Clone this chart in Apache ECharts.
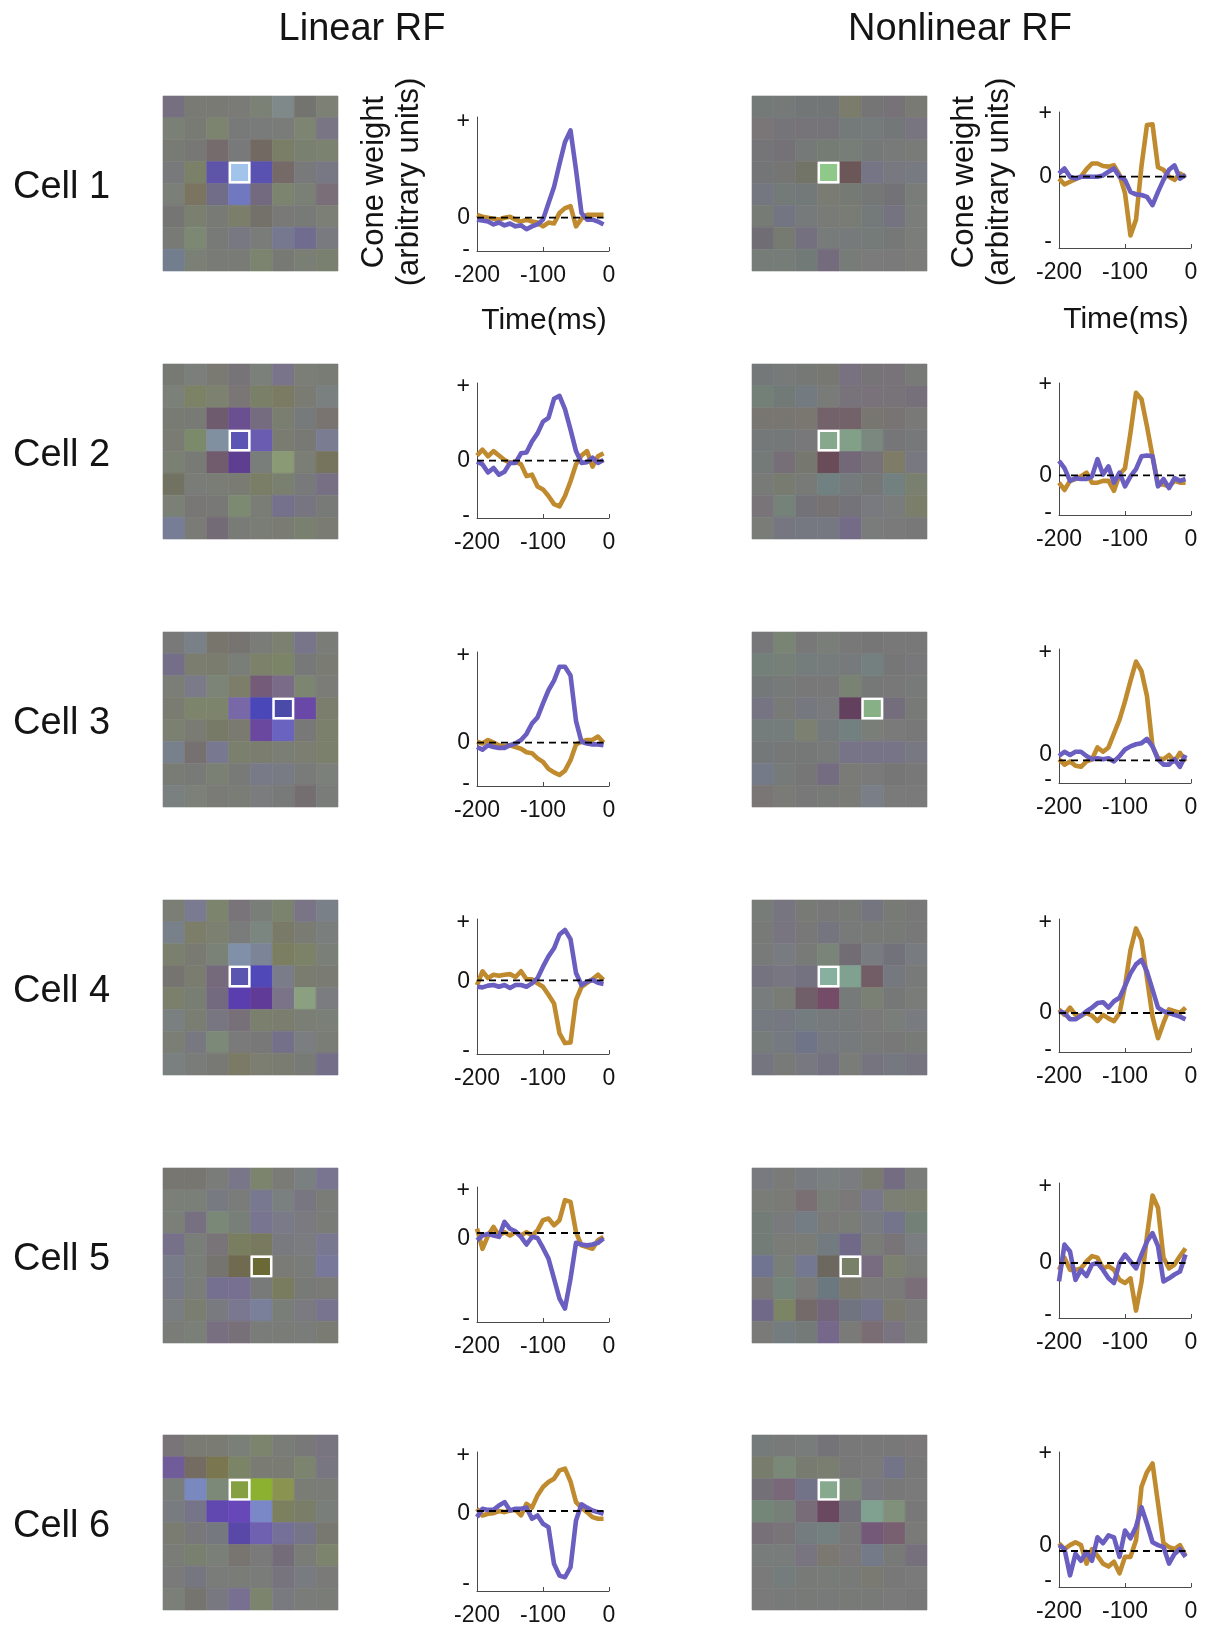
<!DOCTYPE html>
<html><head><meta charset="utf-8">
<script src="https://cdn.jsdelivr.net/npm/echarts@6/dist/echarts.min.js"></script>
<style>html,body{margin:0;padding:0;background:#fff}#c{width:1209px;height:1632px}</style>
</head><body><div id="c"></div>
<script>
// ---------- DATA ----------
const timeMs = [-200,-191.7,-183.3,-175,-166.7,-158.3,-150,-141.7,-133.3,-125,-116.7,-108.3,-100,-91.7,-83.3,-75,-66.7,-58.3,-50,-41.7,-33.3,-25,-16.7,-8.3];
const xTicks = [-200,-100,0];
const cellNames = ['Cell 1','Cell 2','Cell 3','Cell 4','Cell 5','Cell 6'];

// Linear RF time courses (purple = S-cone, orange = L-M)
const linPurple1 = [-0.2,-0.3,-0.4,-0.7,-0.5,-0.8,-0.6,-0.9,-0.8,-1.2,-0.9,-0.7,-0.2,1.5,3.2,5.6,7.9,9.1,5.0,0.5,-0.2,-0.2,-0.4,-0.7];
const linOrange1 = [0.3,0.1,0.0,-0.1,-0.2,0.0,0.1,-0.2,-0.4,-0.2,-0.4,-0.5,-0.9,-0.5,-0.6,0.5,1.0,1.2,-0.9,-0.1,0.3,0.3,0.3,0.3];
const linPurple2 = [-0.1,-0.5,-1.6,-1.0,-1.9,-1.5,-0.3,-0.3,1.0,1.1,2.6,3.7,5.3,5.8,8.4,8.8,7.0,4.2,1.3,-0.3,-0.2,0.4,-0.3,0.1];
const linOrange2 = [0.7,1.5,0.6,1.3,0.7,0.1,-0.3,-0.1,-0.5,-2.1,-1.9,-3.5,-3.9,-4.8,-5.9,-6.2,-4.8,-2.8,-0.5,0.7,1.3,-0.8,0.6,1.0];
const linPurple3 = [-0.5,-0.8,-0.3,-0.5,-0.6,-0.6,-0.3,-0.1,0.3,1.0,2.2,2.9,4.5,6.0,7.1,8.7,8.7,7.7,2.5,0.1,-0.1,-0.2,-0.2,-0.3];
const linOrange3 = [0.1,-0.1,0.3,0.0,-0.3,-0.4,-0.3,-0.5,-0.7,-1.1,-1.2,-1.8,-2.2,-3.0,-3.4,-3.7,-3.2,-2.0,-0.2,0.1,0.3,0.3,0.7,0.0];
const linPurple4 = [-1.1,-1.2,-0.9,-0.8,-1.1,-0.8,-1.3,-0.8,-0.8,-1.1,-0.5,0.4,2.4,4.2,5.6,8.0,8.8,7.2,1.3,-0.8,-0.2,0.1,-0.4,-0.6];
const linOrange4 = [-0.8,1.6,0.4,1.0,0.8,1.0,1.1,0.6,1.6,0.2,0.2,-0.5,-1.1,-2.5,-4.0,-9.2,-10.9,-10.8,-3.4,-1.1,-0.4,0.2,1.0,0.1];
const linPurple5 = [-1.7,-0.6,-0.2,-0.6,-0.9,2.6,1.0,0.4,-0.9,-2.7,-0.9,-1.2,-3.5,-6.0,-10.7,-15.4,-17.7,-10.7,-2.3,-2.7,-2.9,-2.7,-2.3,-1.3];
const linOrange5 = [1.0,-3.7,-0.6,1.4,-0.6,0.2,-0.6,0.2,-0.6,0.2,-0.6,0.6,3.0,3.4,1.8,3.0,7.7,7.3,0.2,-2.9,-3.3,-3.7,-1.7,-0.9];
const linPurple6 = [-1.1,0.4,0.2,0.2,1.0,1.6,0.1,0.4,0.4,0.6,-1.4,-0.8,-2.3,-2.9,-9.5,-11.6,-11.9,-10.1,-1.7,1.2,0.6,0.1,-0.2,-0.5];
const linOrange6 = [0.4,-0.8,-0.5,-0.4,0.0,-0.2,0.1,0.2,-0.8,1.3,0.6,2.8,4.3,5.2,5.8,7.3,7.6,5.3,1.6,0.6,-0.2,-1.1,-1.4,-1.4];

// Nonlinear RF time courses
const nlPurple1 = [0.5,1.3,0,-0.3,0,0,0,0,0.2,0.8,1.3,0,-0.5,-2.4,-2.8,-2.9,-3.2,-4.5,-2.4,-0.5,1.1,1.8,-0.3,0.3];
const nlOrange1 = [-0.3,-1.2,-0.8,-0.4,0,1.2,2.1,2.1,1.7,1.6,1.8,0.3,-2.6,-9.3,-6.8,1.7,8.2,8.3,1.5,1.1,0,-0.5,0.5,0];
const nlPurple2 = [1.6,0.8,-0.6,-0.3,-0.4,-0.4,-0.1,1.8,0.1,1.0,-0.8,0.3,-1.2,-0.1,0.7,2.1,2.2,2.1,-1.2,-0.4,-1.4,-0.3,-0.6,-0.4];
const nlOrange2 = [-0.8,-1.6,-0.6,-0.4,-0.1,0.3,-0.8,-0.8,-0.6,-0.6,-1.7,0.1,0.8,4.7,9.1,8.4,5.4,2.1,-1.0,-1.0,-1.2,-0.6,-0.8,-0.8];
const nlPurple3 = [0.4,0.8,0.5,0.8,0.8,0.4,0.1,0.2,0.1,0.2,-0.1,0.4,1.0,1.3,1.5,1.6,2.0,1.3,0.1,-0.4,-0.4,0.1,-0.6,0.5];
const nlOrange3 = [0.1,-0.4,-0.1,-0.5,-0.6,-0.1,0.1,1.2,0.8,1.2,2.5,3.8,5.5,7.4,9.2,8.3,6.0,1.3,0.2,0.1,0.5,-0.1,0.7,-0.1];
const nlPurple4 = [0.2,0,-0.7,-0.7,-0.3,0.2,0.6,1.1,1.2,0.6,1.3,1.7,3.0,4.4,5.4,5.9,4.6,2.6,0.6,0.2,0,-0.2,-0.4,-0.7];
const nlOrange4 = [0.4,-0.2,0.6,-0.2,-0.3,0,-0.3,-0.9,-0.2,-0.6,-0.9,0,3.0,7.0,9.4,8.1,3.9,-0.4,-2.8,-1.1,0.4,0.2,0,0.6];
const nlPurple5 = [-2.4,2.4,1.5,-2.2,-0.9,-1.7,-0.2,0,-0.9,-2.0,-2.6,0,1.1,0.2,-0.7,1.1,2.8,3.9,2.2,-2.4,-2.0,-1.5,-1.1,1.1];
const nlOrange5 = [-0.9,0.7,-0.9,-0.9,-0.7,0.2,0.9,0.7,-0.7,-0.4,-0.9,-2.2,-2.6,-2.0,-6.2,-2.5,3.5,8.8,7.2,0.7,-0.7,-0.2,0.9,1.9];
const nlPurple6 = [0.6,0.2,-2.5,-0.3,-1.0,-0.1,-1.0,1.4,0.8,1.6,1.4,-0.6,2.1,1.3,2.5,4.5,2.8,0.9,0.6,0.4,-1.3,-0.3,0.2,-0.6];
const nlOrange6 = [0.8,0.2,0.6,0.9,0.6,-1.3,0.2,-0.5,-1.3,-1.6,-1.1,-2.3,-0.6,-0.6,1.1,6.6,8.1,9.0,4.9,0.8,0.4,0.2,0.6,-0.5];

// y-axis extents and tick positions [minus, zero label, plus]
const linYMin = [-3.47,-7.78,-4.96,-12.8,-20.86,-14.37];
const linYMax = [10.5,10.54,10.38,10.7,10.78,10.6];
const linYTicks = [[-3.37,0,10],[-7.42,0,10],[-4.69,0,10],[-12.27,-0.17,10],[-20.08,-1.33,10],[-13.05,-0.48,10]];
const nlYMin = [-11.3,-4.36,-2.11,-4.33,-7.17,-3.7];
const nlYMax = [10.26,10.18,10.37,10.44,10.43,10.17];
const nlYTicks = [[-10.26,0,10],[-4.1,0,10],[-1.8,0.53,10],[-4.07,0,10],[-6.74,0,10],[-3.08,0.58,10]];
const yTickLabels = ['-','0','+'];

// Receptive-field maps (8x8 pixel colours), highlighted pixel [row, col]
const linRF1 = [
 ['#756f7f','#7a7a75','#797a74','#7a7a77','#7b8175','#80898a','#737370','#7c8075'],
 ['#7b8076','#787a74','#7c8470','#787a7a','#797b7a','#7a7c7a','#7d8572','#7a7585'],
 ['#787a74','#777875','#766b6c','#78797a','#726a62','#7b7e66','#7a8070','#7b8270'],
 ['#77797a','#7b8068','#5e55a8','#a3c4ea','#5a52b0','#756a68','#78797a','#787784'],
 ['#7a7f78','#7a7460','#716c88','#7078c0','#736a80','#7c8470','#7b8076','#7a6f78'],
 ['#757673','#7a8070','#787a76','#7b7e6a','#74706a','#797a78','#787a78','#7b7f76'],
 ['#787a76','#7c8874','#787a78','#787882','#7a7c7a','#767890','#706c90','#787a80'],
 ['#727e8e','#7a8076','#797b76','#797b76','#7c8470','#777a74','#7a7f76','#7a8070']];
const linRF2 = [
 ['#777a72','#7b7f7c','#7a7a72','#777478','#7b807a','#797489','#7a7e76','#797b75'],
 ['#7b8078','#7b8266','#7c8170','#797675','#7a8068','#7b7a62','#7a7c74','#7a8080'],
 ['#787a74','#787a76','#6e5c6e','#6a5090','#756c80','#7a7e70','#777a7a','#7a7470'],
 ['#7a7b73','#7c8a6c','#8090a0','#5c55b4','#6a5cb0','#7a7c72','#787874','#7a7c92'],
 ['#7a8074','#787a76','#705c6c','#5e3e90','#7a7e7a','#8a9a74','#7b7e74','#77745e'],
 ['#727262','#7a7c78','#7a7c76','#7a7c74','#7b7e66','#7a8070','#78797a','#777084'],
 ['#7a8076','#787776','#787876','#7c8a72','#7a7c76','#75708c','#777580','#787a78'],
 ['#767d94','#7a7a76','#736c76','#797b76','#7a7c76','#7a7c74','#7a8070','#7a7c74']];
const linRF3 = [
 ['#79797a','#7a8088','#78766c','#767470','#7a7c78','#7b8070','#78758a','#7a7c78'],
 ['#746e88','#7b7e6e','#7a7c6e','#7a7e78','#7c826a','#7c8468','#777878','#7a7c74'],
 ['#7a7e76','#7a7a88','#7c8478','#7c7e6a','#745c78','#7a6c88','#7c8472','#7b7c78'],
 ['#7a7c72','#7c846c','#7c846c','#7868a8','#4a48b8','#4a4aa8','#6a48a8','#7b7e6c'],
 ['#7b8070','#7a7c74','#787a68','#7a7a70','#6a48a0','#6a64c0','#787878','#7b806c'],
 ['#78808c','#777070','#787890','#7b806e','#7b7e6e','#7b7e74','#7b7e70','#7b806c'],
 ['#787c74','#787a78','#7a8074','#787a78','#787a88','#787a84','#797a7a','#7b807a'],
 ['#7a8080','#7b8078','#7a7a76','#7a7c76','#7a7c7e','#787a7a','#756e70','#7a7c7a']];
const linRF4 = [
 ['#7a7e74','#7a7a90','#7c846e','#78747a','#7a7e78','#7b826e','#797486','#7a8088'],
 ['#78808a','#7c7e6a','#7b8070','#797c7a','#7c8680','#7a7a68','#7a7c74','#7a7e7c'],
 ['#7b806e','#797a72','#7a8278','#8090a8','#7c8498','#7b7e60','#7c8268','#7a8078'],
 ['#767470','#7a7c70','#746a7c','#5a56b0','#5048b8','#7a7c8a','#7a7c70','#7a7c74'],
 ['#7b806c','#787e74','#746a80','#5a3eb0','#603c98','#7a7488','#8aa080','#7a7c80'],
 ['#7a8080','#7a7e72','#787680','#787078','#7b806e','#7b7e6e','#7b7e74','#7a8078'],
 ['#7a7e74','#787880','#7c8878','#7a7a7a','#787878','#74708a','#7a7e80','#7a7c76'],
 ['#7a8080','#7a7c7a','#787874','#7a7a66','#7c7e72','#7a7c72','#787a76','#746e88']];
const linRF5 = [
 ['#777670','#777670','#7a7c7a','#787688','#7c846e','#7a7a76','#7a8080','#797590'],
 ['#7a8078','#7a8078','#787a82','#7a7c7a','#787890','#7a8080','#787680','#7a7c78'],
 ['#7a8078','#767080','#7a8878','#787e78','#787590','#7a7a88','#7a7a80','#7a7c78'],
 ['#767088','#7a7e78','#787478','#7a7e60','#787a60','#787a80','#7a7c80','#787890'],
 ['#787c88','#7a7e78','#76746e','#706a50','#6b6a36','#7a7a76','#7a7c7a','#78789a'],
 ['#787a88','#7a7e78','#767090','#787090','#787a7a','#7a7c60','#787a78','#7a7a76'],
 ['#7a7e80','#7a7e70','#787a80','#7a7890','#7a809a','#7a7e78','#7a7a80','#787490'],
 ['#7a7c78','#7a8078','#787080','#787078','#7a7c7a','#7a7c78','#7a7c7a','#7a7c74']];
const linRF6 = [
 ['#787478','#7a7c74','#7a7c74','#7a8078','#7c846e','#7a7c78','#787878','#787480'],
 ['#705c98','#746c62','#7a7650','#7c8468','#7a7c74','#7a7c74','#7c8470','#787680'],
 ['#7a7e7a','#7a88c0','#7c8878','#84a040','#8cb030','#8a9450','#7a7c76','#7a7c78'],
 ['#787c80','#767488','#6048b0','#6848b8','#7a88c8','#7c805e','#7a7e68','#7a7e7a'],
 ['#7a7c72','#78787a','#767880','#5a48a8','#7060b0','#747098','#767488','#787870'],
 ['#7a7c78','#7a8070','#7a8078','#787470','#7a7a7a','#746c78','#7a7c78','#7c846e'],
 ['#7a7a7a','#767680','#7a7c7a','#7a7c78','#7a7c7a','#78747e','#787c80','#7a7a78'],
 ['#7a8078','#76746e','#787880','#787090','#7c846e','#787a80','#7a7c7a','#7a7c78']];

const nlRF1 = [
 ['#737a78','#757977','#737676','#737676','#7b7c6c','#757576','#767277','#797a74'],
 ['#7a7576','#757579','#767379','#767379','#737a79','#757a7a','#737778','#787580'],
 ['#757578','#747177','#757a78','#747c74','#777d77','#757a78','#777a78','#797b78'],
 ['#737577','#757573','#737468','#8fc98a','#6b5658','#757585','#787880','#777a80'],
 ['#757780','#737a78','#737878','#7a7c74','#767a74','#747776','#727277','#797d7a'],
 ['#767b76','#737583','#777a7a','#797b77','#797c75','#747a7a','#757380','#7a7d7a'],
 ['#716d75','#767a70','#757080','#777b7a','#777a7a','#747b78','#767878','#7a7d7a'],
 ['#767c78','#767d78','#727a78','#746c7c','#777c78','#7b7b7b','#7a7a7a','#7c7c7a']];
const nlRF2 = [
 ['#757878','#767a78','#767876','#787872','#787180','#777478','#787378','#787a78'],
 ['#728078','#727a78','#737a80','#787b78','#78737a','#7a727a','#787378','#76707a'],
 ['#787670','#787670','#7a7670','#73626a','#73626a','#787670','#787474','#797a78'],
 ['#747878','#747878','#78787a','#86a88c','#82a088','#7a8880','#767678','#77787a'],
 ['#747a78','#766f78','#767870','#6a4c58','#736878','#767278','#7e7c66','#787880'],
 ['#787a78','#787c70','#787a78','#718080','#757a7c','#767878','#728080','#7a8070'],
 ['#787478','#74827a','#727278','#767274','#75737a','#787a80','#7a7c7c','#7c7e6c'],
 ['#7a7c78','#757680','#757880','#757880','#746c86','#7a7c7c','#7a7a7a','#787878']];
const nlRF3 = [
 ['#77777a','#798474','#787878','#7a7e78','#787878','#777676','#787878','#787878'],
 ['#738079','#768079','#757c7c','#767c7c','#777a7a','#748080','#767676','#78787a'],
 ['#757878','#767a78','#787878','#787878','#7a8274','#767878','#787878','#787a7a'],
 ['#767483','#787a78','#767880','#787a7c','#62405e','#88b087','#746e7c','#787a78'],
 ['#747c7c','#747c7c','#7c8070','#757a7c','#728080','#7a7e78','#7a7a7a','#787878'],
 ['#757878','#767878','#767878','#787a7a','#787488','#787488','#787488','#787882'],
 ['#747a88','#767a78','#767676','#746c80','#7a7a76','#7a7a7a','#767676','#787878'],
 ['#7a7676','#7a7a76','#787878','#787a78','#7a7a76','#7a7e86','#7a7a7a','#7a7a7a']];
const nlRF4 = [
 ['#787c78','#777580','#787a76','#787878','#787a78','#757580','#787a76','#787878'],
 ['#787a78','#787580','#787878','#757580','#787a7a','#787a78','#787a78','#787878'],
 ['#787a7a','#787c80','#787a78','#7a8478','#726c74','#787b80','#72727a','#787c80'],
 ['#757380','#787680','#747180','#88b0a0','#80a090','#725c66','#767880','#787a7a'],
 ['#787c7c','#787c74','#705e68','#744c68','#767a78','#7a8074','#767878','#7a7c7a'],
 ['#747a80','#757880','#747c80','#767a7c','#767a7a','#7a7a7a','#7a7e7a','#787c80'],
 ['#767c7a','#757a80','#707488','#767a80','#767a7c','#787a7a','#787878','#787a78'],
 ['#757580','#787a78','#787880','#747280','#7a7c78','#76747e','#767880','#76747e']];
const nlRF5 = [
 ['#787a80','#7a7a78','#787c80','#7a8080','#7a7c80','#797a70','#746c80','#7a7c7a'],
 ['#7a7c78','#7a7a76','#7a7074','#7a7e78','#7a7878','#78788a','#7c8074','#7c8070'],
 ['#747c78','#787a7c','#747c84','#7a7a78','#7a7c78','#787c80','#74748a','#728078'],
 ['#747c78','#7a7c78','#7a7c78','#727c80','#706a88','#7a7c78','#787478','#7a7e80'],
 ['#707490','#787e78','#747890','#6c6860','#788068','#776c80','#7c8070','#7a7c78'],
 ['#7a7876','#74847a','#7a7a78','#6c7880','#78786c','#7a7a78','#7a7a78','#7a6e78'],
 ['#706a88','#7c8466','#746a6a','#74667a','#707480','#74748c','#7a7a70','#7a7a7a'],
 ['#7a7a78','#747c80','#747a78','#76688a','#7a7a78','#7a6e74','#7a7480','#7a7c7a']];
const nlRF6 = [
 ['#757a7a','#787a7a','#787c7a','#747478','#787878','#787878','#787878','#7a7878'],
 ['#787c6c','#7a8878','#787c70','#7a7e70','#787878','#7a7a7a','#747488','#787878'],
 ['#747078','#786878','#727288','#87aa8e','#7a8678','#787880','#787878','#7a7a7a'],
 ['#748678','#768078','#786c78','#6a4860','#74707a','#80a090','#80907a','#787878'],
 ['#787078','#787478','#747c80','#748080','#787878','#745a78','#786070','#7a7a78'],
 ['#787c7a','#787c7a','#787480','#7a7870','#7a7878','#747a88','#787a78','#76707c'],
 ['#7a7a7a','#757c7c','#787a78','#787c78','#787a78','#7a7a72','#787878','#7a7a7a'],
 ['#7a7a7a','#787a7a','#787a78','#787a7a','#787a78','#787a78','#7a7a7a','#787878']];
const linHighlight = [[3,3],[3,3],[3,5],[3,3],[4,4],[2,3]];
const nlHighlight  = [[3,3],[3,3],[3,5],[3,3],[4,4],[2,3]];

// ---------- LAYOUT / STYLE ----------
const FONT = '"Liberation Sans", Arial, Helvetica, sans-serif';
const PURPLE = '#6a5ec0', ORANGE = '#c08a2e', AXIS = '#4a4a4a', TXT = '#141414';
const HM = 175, LIN_HM_LEFT = 163, NL_HM_LEFT = 752;
const hmTops = [96,364,632,900,1168,1435];
const LIN_LEFT = 477, NL_LEFT = 1059, PLOT_W = 132;
const linGridTB = [[117,134],[383,135],[652,134],[919,135],[1187,135],[1452,139]];
const nlGridTB  = [[112,136],[383,132],[649,134],[919,133],[1183,135],[1452,135]];

const linRF = [linRF1,linRF2,linRF3,linRF4,linRF5,linRF6];
const nlRF = [nlRF1,nlRF2,nlRF3,nlRF4,nlRF5,nlRF6];
const linP = [linPurple1,linPurple2,linPurple3,linPurple4,linPurple5,linPurple6];
const linO = [linOrange1,linOrange2,linOrange3,linOrange4,linOrange5,linOrange6];
const nlP = [nlPurple1,nlPurple2,nlPurple3,nlPurple4,nlPurple5,nlPurple6];
const nlO = [nlOrange1,nlOrange2,nlOrange3,nlOrange4,nlOrange5,nlOrange6];

const grids = [], xAxes = [], yAxes = [], series = [], graphics = [];
const idx8 = ['0','1','2','3','4','5','6','7'];

function addHeatmap(left, top, colors, hl) {
  const gi = grids.length;
  grids.push({left: left, top: top, width: HM, height: HM});
  xAxes.push({gridIndex: gi, type: 'category', data: idx8, show: false});
  yAxes.push({gridIndex: gi, type: 'category', data: idx8, inverse: true, show: false});
  const data = [];
  colors.forEach((row, r) => row.forEach((c, col) => data.push([col, r])));
  series.push({
    type: 'custom', xAxisIndex: gi, yAxisIndex: gi, data: data, silent: true, animation: false,
    renderItem: function (params, api) {
      const col = api.value(0), r = api.value(1);
      const p = api.coord([col, r]);
      const s = api.size([1, 1]);
      const x = p[0] - s[0] / 2, y = p[1] - s[1] / 2;
      const fill = colors[r][col];
      if (r === hl[0] && col === hl[1]) {
        return {type: 'rect', z2: 10, shape: {x: x + 1.2, y: y + 1.2, width: s[0] - 2.4, height: s[1] - 2.4},
                style: {fill: fill, stroke: '#ffffff', lineWidth: 2.4}};
      }
      return {type: 'rect', shape: {x: x, y: y, width: s[0], height: s[1]},
              style: {fill: fill, stroke: fill, lineWidth: 0.6}};
    }
  });
}

function addTrace(left, tb, ymin, ymax, ticks, purple, orange) {
  const gi = grids.length;
  grids.push({left: left, top: tb[0], width: PLOT_W, height: tb[1]});
  xAxes.push({
    gridIndex: gi, type: 'value', min: -200, max: 0, interval: 100,
    axisLine: {show: true, onZero: false, lineStyle: {color: AXIS, width: 1}},
    axisTick: {show: true, inside: true, length: 4, lineStyle: {color: AXIS}},
    axisLabel: {margin: 13, fontSize: 23, color: TXT, fontFamily: FONT, customValues: xTicks},
    splitLine: {show: false}
  });
  yAxes.push({
    gridIndex: gi, type: 'value', min: ymin, max: ymax,
    axisLine: {show: true, onZero: false, lineStyle: {color: AXIS, width: 1}},
    axisTick: {show: false}, splitLine: {show: false},
    axisLabel: {
      margin: 7, fontSize: 23, color: TXT, fontFamily: FONT, customValues: ticks,
      formatter: function (v) {
        let best = 0, d = Infinity;
        ticks.forEach((t, i) => { if (Math.abs(t - v) < d) { d = Math.abs(t - v); best = i; } });
        return yTickLabels[best];
      }
    }
  });
  series.push({type: 'line', xAxisIndex: gi, yAxisIndex: gi, data: timeMs.map((t, i) => [t, orange[i]]),
    showSymbol: false, silent: true, animation: false, lineStyle: {color: ORANGE, width: 4.6, join: 'round'}, z: 2});
  series.push({type: 'line', xAxisIndex: gi, yAxisIndex: gi, data: timeMs.map((t, i) => [t, purple[i]]),
    showSymbol: false, silent: true, animation: false, lineStyle: {color: PURPLE, width: 4.6, join: 'round'}, z: 3});
  series.push({type: 'line', xAxisIndex: gi, yAxisIndex: gi, data: [[timeMs[0], 0], [timeMs[timeMs.length - 1], 0]],
    showSymbol: false, silent: true, animation: false, lineStyle: {color: '#000', width: 1.8, type: [7, 5]}, z: 4});
}

for (let k = 0; k < 6; k++) {
  addHeatmap(LIN_HM_LEFT, hmTops[k], linRF[k], linHighlight[k]);
  addTrace(LIN_LEFT, linGridTB[k], linYMin[k], linYMax[k], linYTicks[k], linP[k], linO[k]);
  addHeatmap(NL_HM_LEFT, hmTops[k], nlRF[k], nlHighlight[k]);
  addTrace(NL_LEFT, nlGridTB[k], nlYMin[k], nlYMax[k], nlYTicks[k], nlP[k], nlO[k]);
  graphics.push({type: 'text', x: 13, y: hmTops[k] + HM / 2 + 4,
    style: {text: cellNames[k], fontSize: 38, fontFamily: FONT, fill: TXT,
            textAlign: 'left', textVerticalAlign: 'middle', align: 'left', verticalAlign: 'middle'}});
}

function centerText(x, y, text, size, rot, lh) {
  graphics.push({type: 'text', x: x, y: y, rotation: rot || 0,
    style: {text: text, fontSize: size, fontFamily: FONT, fill: TXT, lineHeight: lh || size * 1.2,
            textAlign: 'center', textVerticalAlign: 'middle', align: 'center', verticalAlign: 'middle'}});
}
centerText(362, 30, 'Linear RF', 38);
centerText(960, 30, 'Nonlinear RF', 38);
centerText(392, 182, 'Cone weight\n(arbitrary units)', 31, Math.PI / 2, 35);
centerText(982, 182, 'Cone weight\n(arbitrary units)', 31, Math.PI / 2, 35);
centerText(544, 321, 'Time(ms)', 30);
centerText(1126, 320, 'Time(ms)', 30);

const chart = echarts.init(document.getElementById('c'), null, {renderer: 'canvas', width: 1209, height: 1632});
chart.setOption({
  animation: false,
  backgroundColor: '#ffffff',
  grid: grids, xAxis: xAxes, yAxis: yAxes, series: series,
  graphic: {elements: graphics}
});
</script>
</body></html>
